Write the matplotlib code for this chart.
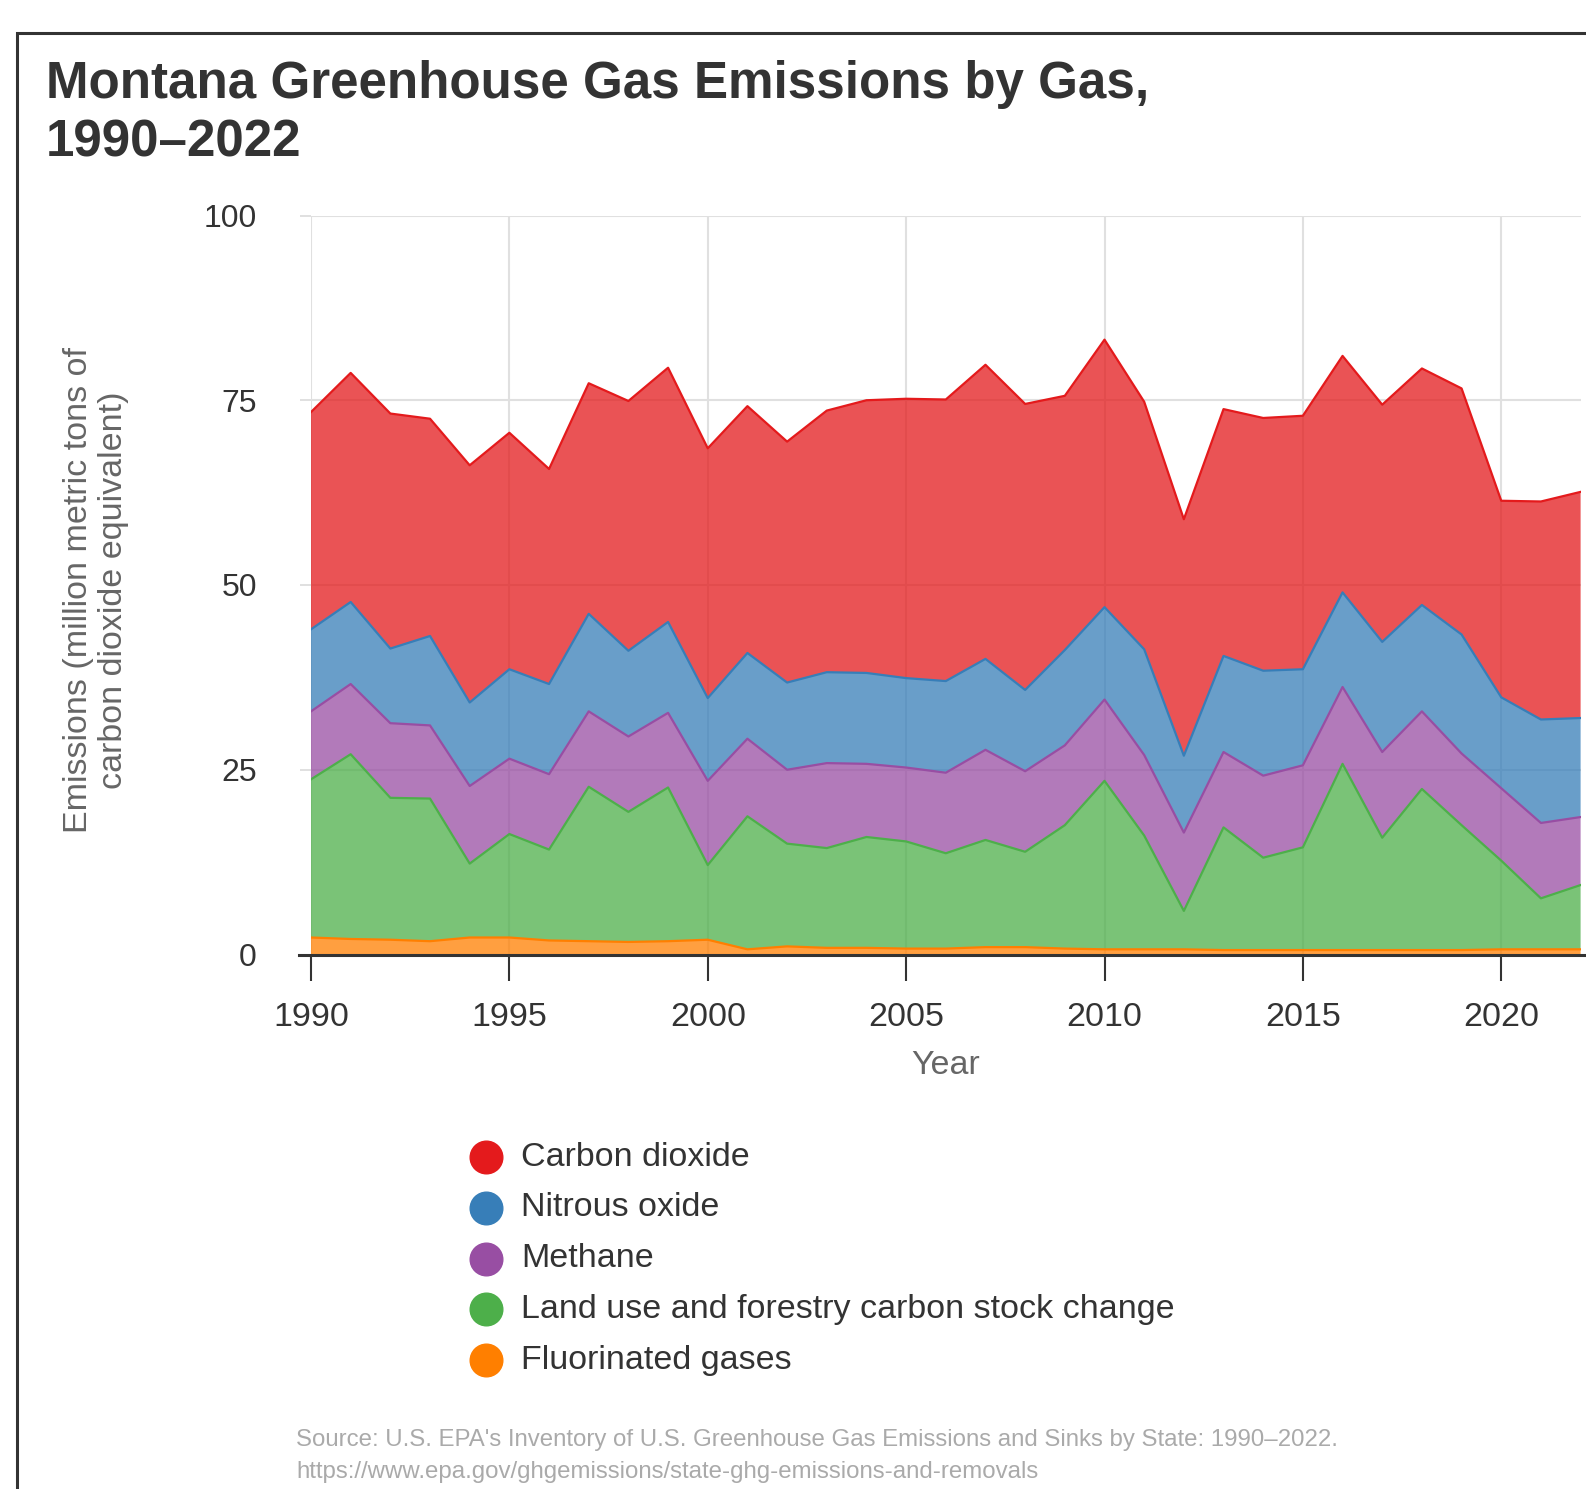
import numpy as np
import matplotlib
matplotlib.use("Agg")
import matplotlib.pyplot as plt
from matplotlib.lines import Line2D
from matplotlib.patches import Rectangle

plt.rcParams['font.family'] = ['Liberation Sans', 'DejaVu Sans']

years = list(range(1990, 2023))
fluorinated = [2.3, 2.1, 2.0, 1.8, 2.3, 2.3, 1.9, 1.8, 1.7, 1.8, 2.0, 0.7, 1.1, 0.9, 0.9, 0.8, 0.8,
               1.0, 1.0, 0.8, 0.7, 0.7, 0.7, 0.6, 0.6, 0.6, 0.6, 0.6, 0.6, 0.6, 0.7, 0.7, 0.7]
land_use = [21.4, 25.0, 19.2, 19.3, 10.0, 14.0, 12.3, 20.9, 17.6, 20.8, 10.1, 18.0, 13.9, 13.5, 15.0,
            14.5, 12.9, 14.5, 12.9, 16.7, 22.8, 15.4, 5.2, 16.6, 12.5, 13.9, 25.2, 15.2, 21.8, 16.9,
            12.0, 6.9, 8.7]
methane = [9.2, 9.5, 10.1, 9.9, 10.5, 10.2, 10.2, 10.2, 10.2, 10.1, 11.4, 10.5, 10.0, 11.5, 9.9,
           10.0, 10.9, 12.2, 10.9, 10.8, 11.0, 10.9, 10.6, 10.2, 11.1, 11.1, 10.4, 11.6, 10.5, 9.7,
           9.8, 10.2, 9.2]
nitrous = [11.1, 11.1, 10.1, 12.1, 11.3, 12.1, 12.2, 13.2, 11.6, 12.3, 11.2, 11.6, 11.8, 12.3, 12.3,
           12.1, 12.4, 12.3, 11.0, 12.9, 12.5, 14.3, 10.4, 13.0, 14.2, 13.0, 12.8, 14.9, 14.4, 16.1,
           12.3, 14.0, 13.4]
co2 = [29.4, 31.0, 31.8, 29.4, 32.1, 32.0, 29.1, 31.2, 33.8, 34.4, 33.8, 33.4, 32.6, 35.4, 36.9,
       37.8, 38.1, 39.8, 38.7, 34.4, 36.2, 33.5, 32.0, 33.4, 34.2, 34.3, 32.0, 32.1, 32.0, 33.3,
       26.6, 29.5, 30.6]

series_labels = ["Fluorinated gases", "Land use and forestry carbon stock change", "Methane",
                 "Nitrous oxide", "Carbon dioxide"]
series_colors = ["#FF7F00", "#4DAF4A", "#984EA3", "#377EB8", "#E41A1C"]
x_ticks = [1990, 1995, 2000, 2005, 2010, 2015, 2020]
y_ticks = [0, 25, 50, 75, 100]

W, H = 1586, 1489
fig = plt.figure(figsize=(W / 100, H / 100), dpi=100)

def fx(px):
    return px / W

def fy(py):
    return 1 - py / H

ax = fig.add_axes([fx(311), fy(954.5), fx(1580.6) - fx(311), fy(215.5) - fy(954.5)])

data = [fluorinated, land_use, methane, nitrous, co2]
yrs = np.array(years)
base = np.zeros(len(years))
for vals, col in zip(data, series_colors):
    top = base + np.array(vals)
    ax.fill_between(yrs, base, top, facecolor=col, alpha=0.75, linewidth=0, zorder=2)
    ax.plot(yrs, top, color=col, lw=1.6, zorder=3)
    base = top

ax.set_xlim(1990, 2022)
ax.set_ylim(0, 100)
ax.set_xticks(x_ticks)
ax.set_yticks(y_ticks)
ax.set_xticklabels([str(t) for t in x_ticks], fontsize=24.5, color="#333333")
ax.set_yticklabels([str(t) for t in y_ticks], fontsize=23, color="#333333")
ax.tick_params(axis='x', length=19, width=1.5, color="#333333", pad=15)
ax.tick_params(axis='y', length=8, width=1.4, color="#e0e0e0", pad=31)
ax.grid(True, color="#e0e0e0", lw=1.5, zorder=0)
ax.set_axisbelow(True)
for s in ['top', 'right', 'left', 'bottom']:
    ax.spines[s].set_visible(False)

# x axis line
fig.add_artist(Line2D([fx(299), 1.0], [fy(954.5), fy(954.5)], transform=fig.transFigure,
                      color="#333333", lw=2.2, zorder=5))

# frame
fig.add_artist(Rectangle((fx(17), fy(1600)), 1.2, fy(33) - fy(1600), transform=fig.transFigure,
                         fill=False, edgecolor="#333333", lw=2.2))

# title
fig.text(fx(46), fy(60), "Montana Greenhouse Gas Emissions by Gas,\n1990\u20132022",
         ha='left', va='top', fontsize=36.8, fontweight='bold', color="#333333", linespacing=1.26)

# axis labels
fig.text(fx(96), fy(590), "Emissions (million metric tons of\ncarbon dioxide equivalent)",
         rotation=90, ha='center', va='center', fontsize=24.5, color="#666666",
         multialignment='center', linespacing=1.2)
fig.text(fx(946), fy(1066), "Year", ha='center', va='center', fontsize=24.5, color="#666666")

# legend
legend_order = [4, 3, 2, 1, 0]
for k, i in enumerate(legend_order):
    yy = 1157 + 50.8 * k
    fig.add_artist(Line2D([fx(486)], [fy(yy)], marker='o', markersize=23.5, color=series_colors[i],
                          linestyle='none', transform=fig.transFigure))
    fig.text(fx(521), fy(yy), series_labels[i], ha='left', va='center', fontsize=24.5,
             color="#333333")

# source
fig.text(fx(296), fy(1440), "Source: U.S. EPA's Inventory of U.S. Greenhouse Gas Emissions and Sinks by State: 1990\u20132022.",
         ha='left', va='center', fontsize=17.3, color="#aaaaaa")
fig.text(fx(296), fy(1472), "https://www.epa.gov/ghgemissions/state-ghg-emissions-and-removals",
         ha='left', va='center', fontsize=17.3, color="#aaaaaa")

fig.savefig("out.png", dpi=100)
